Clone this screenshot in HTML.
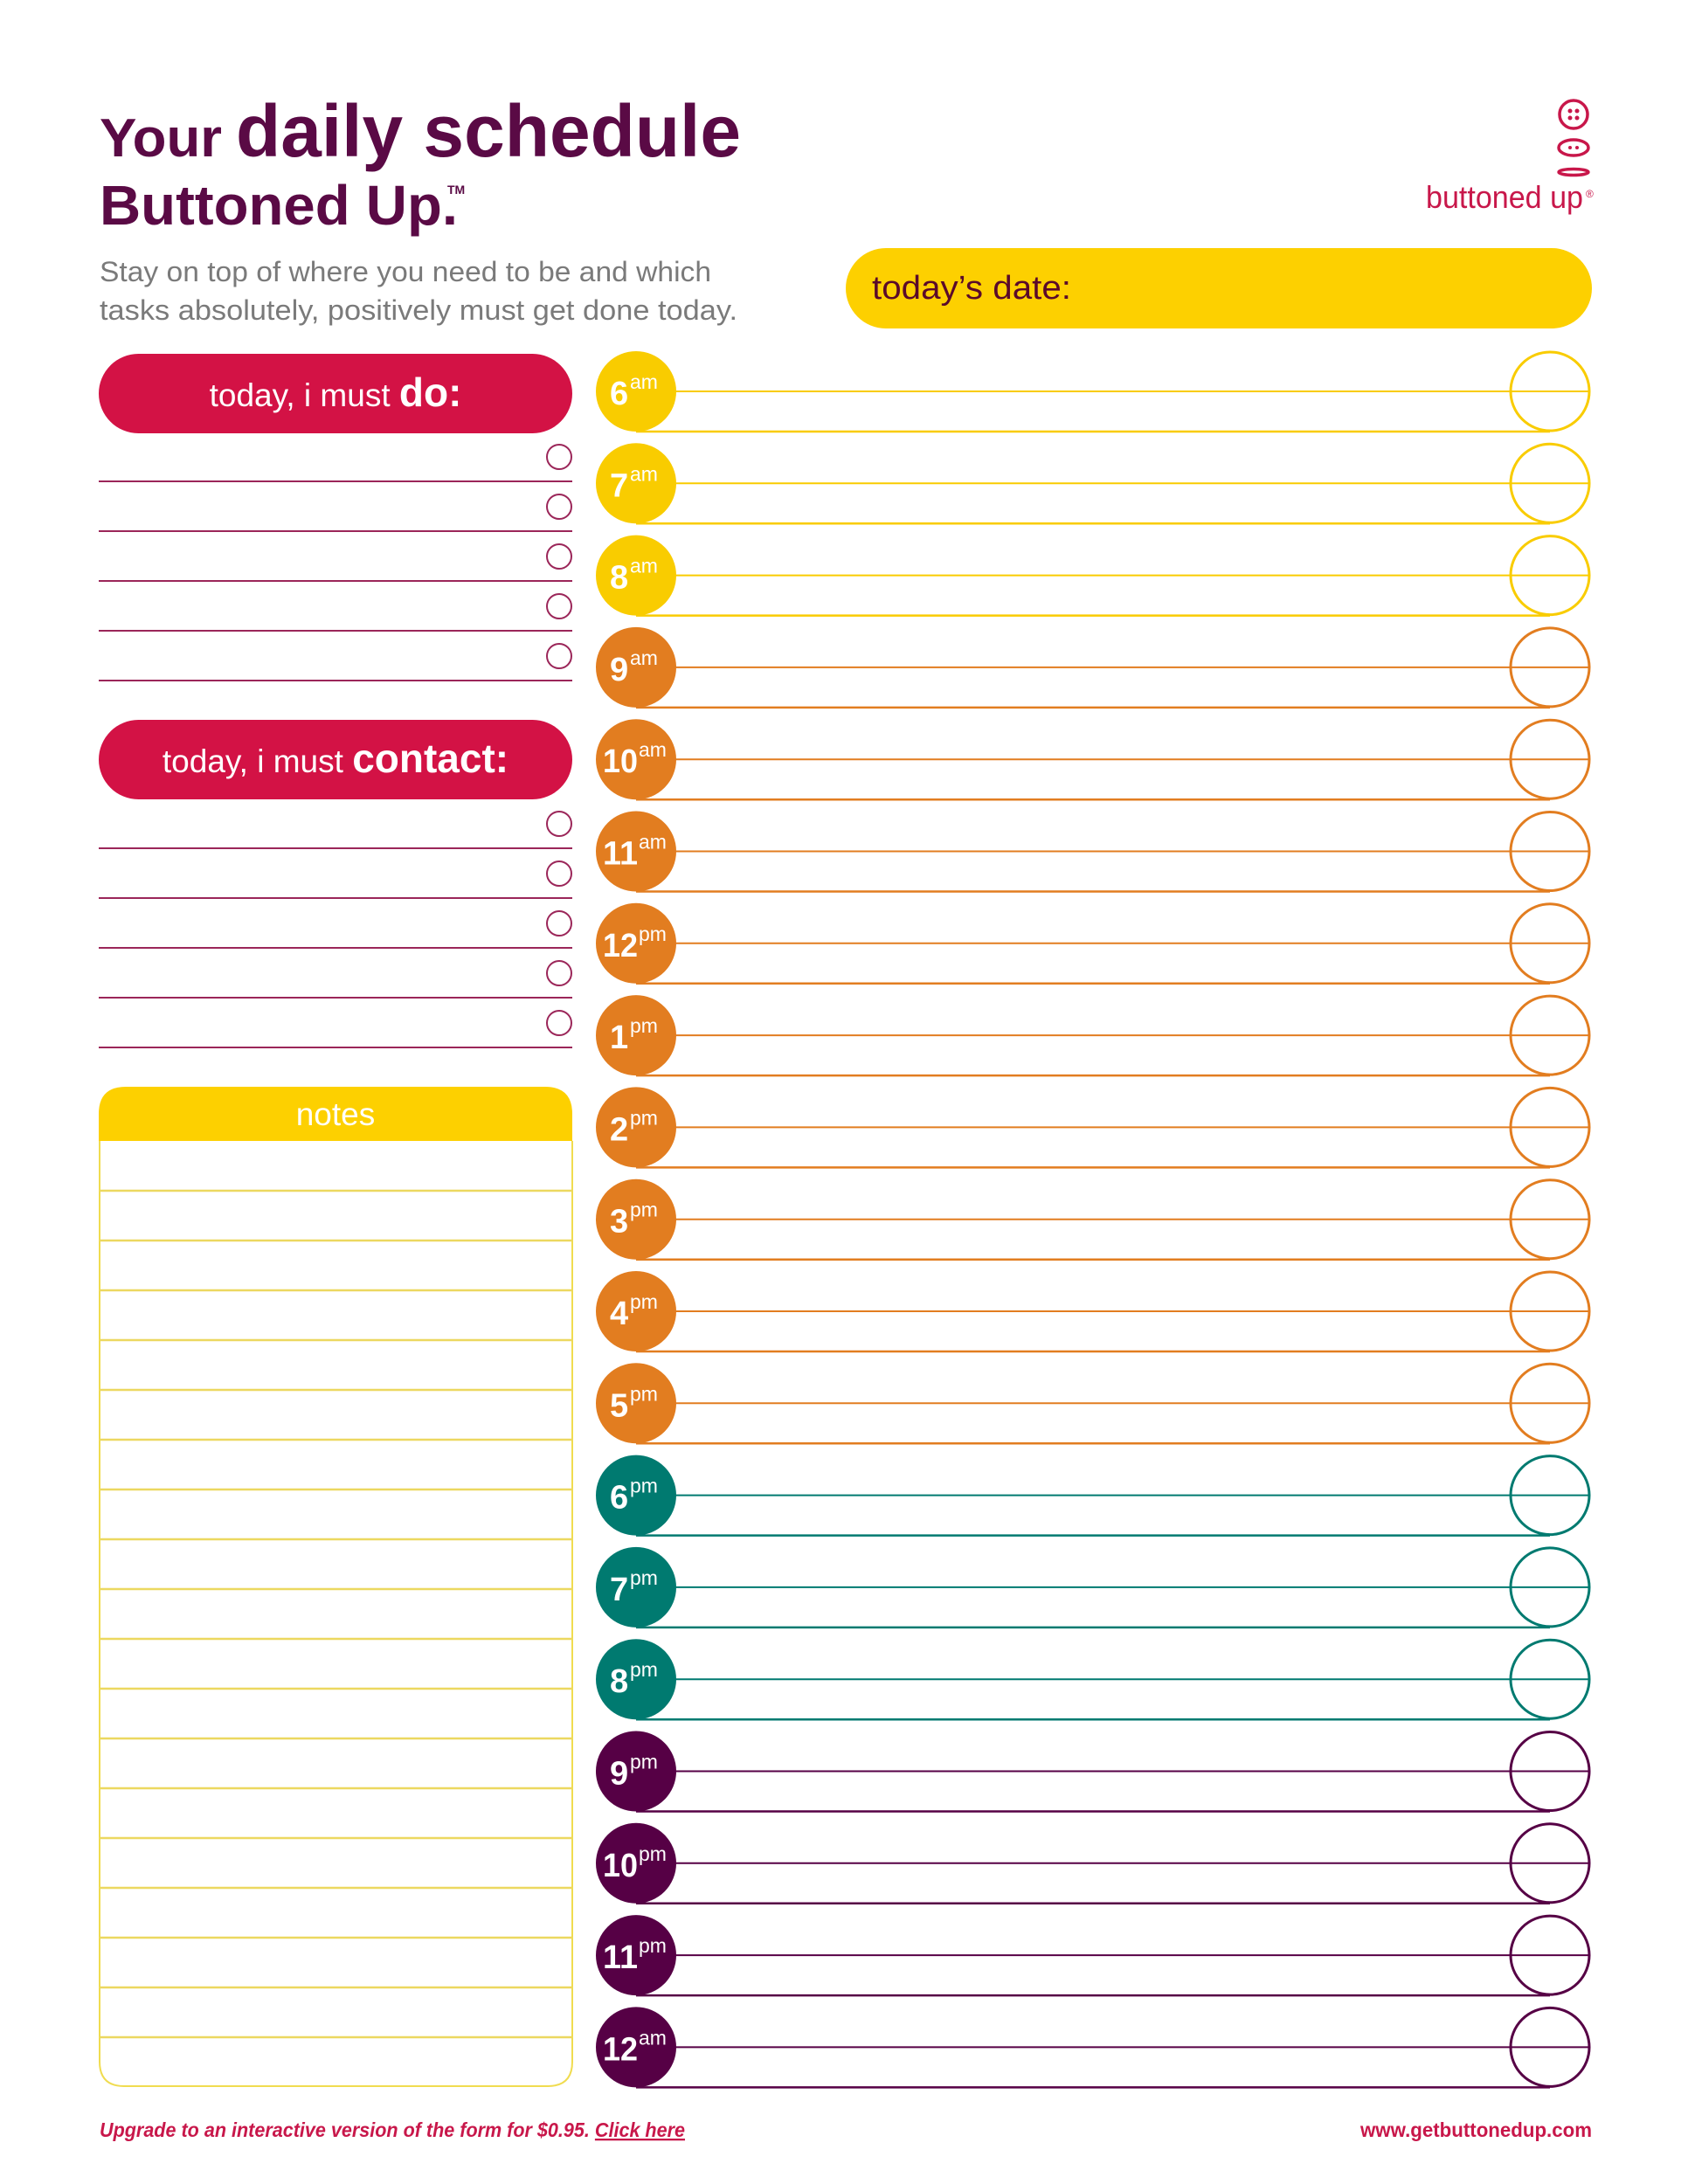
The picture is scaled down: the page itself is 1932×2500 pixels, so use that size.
<!DOCTYPE html>
<html><head><meta charset="utf-8"><style>
html,body{margin:0;padding:0;background:#fff;}
svg{display:block;}
text{font-family:"Liberation Sans",sans-serif;}
</style></head><body>
<svg width="1932" height="2500" viewBox="0 0 1932 2500" xmlns="http://www.w3.org/2000/svg">
<rect width="1932" height="2500" fill="#fff"/>
<text x="114" y="179" font-size="62" fill="#5a0a45" font-weight="bold" textLength="140" lengthAdjust="spacingAndGlyphs">Your</text>
<text x="270" y="179" font-size="84" fill="#5a0a45" font-weight="bold" textLength="578" lengthAdjust="spacingAndGlyphs">daily schedule</text>
<text x="114" y="257" font-size="64" fill="#5a0a45" font-weight="bold" textLength="410" lengthAdjust="spacingAndGlyphs">Buttoned Up.</text>
<text x="512" y="222" font-size="14" fill="#5a0a45" font-weight="bold">TM</text>
<text x="114" y="322" font-size="32" fill="#7a7a7a" textLength="700" lengthAdjust="spacingAndGlyphs">Stay on top of where you need to be and which</text>
<text x="114" y="366" font-size="32" fill="#7a7a7a" textLength="730" lengthAdjust="spacingAndGlyphs">tasks absolutely, positively must get done today.</text>
<g stroke="#c8174a" stroke-width="3.5" fill="none">
<circle cx="1801" cy="131" r="16"/>
<ellipse cx="1801" cy="169" rx="17" ry="9"/>
<ellipse cx="1801" cy="197" rx="17" ry="3.5"/>
</g>
<g fill="#c8174a"><circle cx="1797" cy="127" r="2.5"/><circle cx="1805" cy="127" r="2.5"/><circle cx="1797" cy="135" r="2.5"/><circle cx="1805" cy="135" r="2.5"/>
<circle cx="1797" cy="169" r="2"/><circle cx="1805" cy="169" r="2"/></g>
<text x="1632" y="238" font-size="36" fill="#c8174a" textLength="180" lengthAdjust="spacingAndGlyphs">buttoned up</text>
<text x="1815" y="226" font-size="12" fill="#c8174a">®</text>
<rect x="968" y="284" width="854" height="92" rx="46" fill="#fdd000"/>
<text x="998" y="342" font-size="38" fill="#5a0a2a" textLength="228" lengthAdjust="spacingAndGlyphs">today’s date:</text>
<rect x="113" y="405" width="542" height="91" rx="45.5" fill="#d31245"/>
<text x="384" y="465" font-size="37" fill="#fff" text-anchor="middle">today, i must <tspan font-weight="bold" font-size="46">do:</tspan></text>
<g stroke="#9b2659" stroke-width="2" fill="none">
<line x1="113" y1="551" x2="655" y2="551"/><circle cx="640" cy="523" r="14"/>
<line x1="113" y1="608" x2="655" y2="608"/><circle cx="640" cy="580" r="14"/>
<line x1="113" y1="665" x2="655" y2="665"/><circle cx="640" cy="637" r="14"/>
<line x1="113" y1="722" x2="655" y2="722"/><circle cx="640" cy="694" r="14"/>
<line x1="113" y1="779" x2="655" y2="779"/><circle cx="640" cy="751" r="14"/>
</g>
<rect x="113" y="824" width="542" height="91" rx="45.5" fill="#d31245"/>
<text x="384" y="884" font-size="37" fill="#fff" text-anchor="middle">today, i must <tspan font-weight="bold" font-size="46">contact:</tspan></text>
<g stroke="#9b2659" stroke-width="2" fill="none">
<line x1="113" y1="971" x2="655" y2="971"/><circle cx="640" cy="943" r="14"/>
<line x1="113" y1="1028" x2="655" y2="1028"/><circle cx="640" cy="1000" r="14"/>
<line x1="113" y1="1085" x2="655" y2="1085"/><circle cx="640" cy="1057" r="14"/>
<line x1="113" y1="1142" x2="655" y2="1142"/><circle cx="640" cy="1114" r="14"/>
<line x1="113" y1="1199" x2="655" y2="1199"/><circle cx="640" cy="1171" r="14"/>
</g>
<path d="M114 1306 V2360 Q114 2388 142 2388 H627 Q655 2388 655 2360 V1306" fill="none" stroke="#f0dc50" stroke-width="2"/>
<path d="M113 1306 V1275 Q113 1244 144 1244 H624 Q655 1244 655 1275 V1306 Z" fill="#fdd000"/>
<text x="384" y="1288" font-size="37" fill="#fff" text-anchor="middle">notes</text>
<g stroke="#ecd860" stroke-width="2.5">
<line x1="114" y1="1363" x2="655" y2="1363"/><line x1="114" y1="1420" x2="655" y2="1420"/><line x1="114" y1="1477" x2="655" y2="1477"/><line x1="114" y1="1534" x2="655" y2="1534"/><line x1="114" y1="1591" x2="655" y2="1591"/><line x1="114" y1="1648" x2="655" y2="1648"/><line x1="114" y1="1705" x2="655" y2="1705"/><line x1="114" y1="1762" x2="655" y2="1762"/><line x1="114" y1="1819" x2="655" y2="1819"/><line x1="114" y1="1876" x2="655" y2="1876"/><line x1="114" y1="1933" x2="655" y2="1933"/><line x1="114" y1="1990" x2="655" y2="1990"/><line x1="114" y1="2047" x2="655" y2="2047"/><line x1="114" y1="2104" x2="655" y2="2104"/><line x1="114" y1="2161" x2="655" y2="2161"/><line x1="114" y1="2218" x2="655" y2="2218"/><line x1="114" y1="2275" x2="655" y2="2275"/><line x1="114" y1="2332" x2="655" y2="2332"/>
</g>
<g id="hours"></g>
<text x="114" y="2446" font-size="23" font-style="italic" font-weight="bold" fill="#c8174a" textLength="670" lengthAdjust="spacingAndGlyphs">Upgrade to an interactive version of the form for $0.95. <tspan text-decoration="underline">Click here</tspan></text>
<text x="1822" y="2446" font-size="23" font-weight="bold" fill="#c8174a" text-anchor="end" textLength="265" lengthAdjust="spacingAndGlyphs">www.getbuttonedup.com</text>
</svg>
<script>
var hrs=[["6","am","#f9cc00"],["7","am","#f9cc00"],["8","am","#f9cc00"],["9","am","#e27d20"],["10","am","#e27d20"],["11","am","#e27d20"],["12","pm","#e27d20"],["1","pm","#e27d20"],["2","pm","#e27d20"],["3","pm","#e27d20"],["4","pm","#e27d20"],["5","pm","#e27d20"],["6","pm","#007a70"],["7","pm","#007a70"],["8","pm","#007a70"],["9","pm","#560045"],["10","pm","#560045"],["11","pm","#560045"],["12","am","#560045"]];
var s="";
hrs.forEach(function(h,i){var cy=448+i*105.3;var c=h[2];
s+='<line x1="773" y1="'+cy+'" x2="1820" y2="'+cy+'" stroke="'+c+'" stroke-width="2"/>';
s+='<line x1="728" y1="'+(cy+46)+'" x2="1774" y2="'+(cy+46)+'" stroke="'+c+'" stroke-width="2.5"/>';
s+='<circle cx="1774" cy="'+cy+'" r="45" fill="none" stroke="'+c+'" stroke-width="3"/>';
s+='<circle cx="728" cy="'+cy+'" r="46" fill="'+c+'"/>';
var big=h[0].length>1;
s+='<text x="'+(big?690:698)+'" y="'+(cy+15)+'" font-size="38" font-weight="bold" fill="#fff"'+(big?' textLength="40" lengthAdjust="spacingAndGlyphs"':'')+'>'+h[0]+'</text>';
s+='<text x="'+(big?731:721)+'" y="'+(cy-3)+'" font-size="23" fill="#fff">'+h[1]+'</text>';});
document.getElementById("hours").innerHTML=s;
</script>
</body></html>
